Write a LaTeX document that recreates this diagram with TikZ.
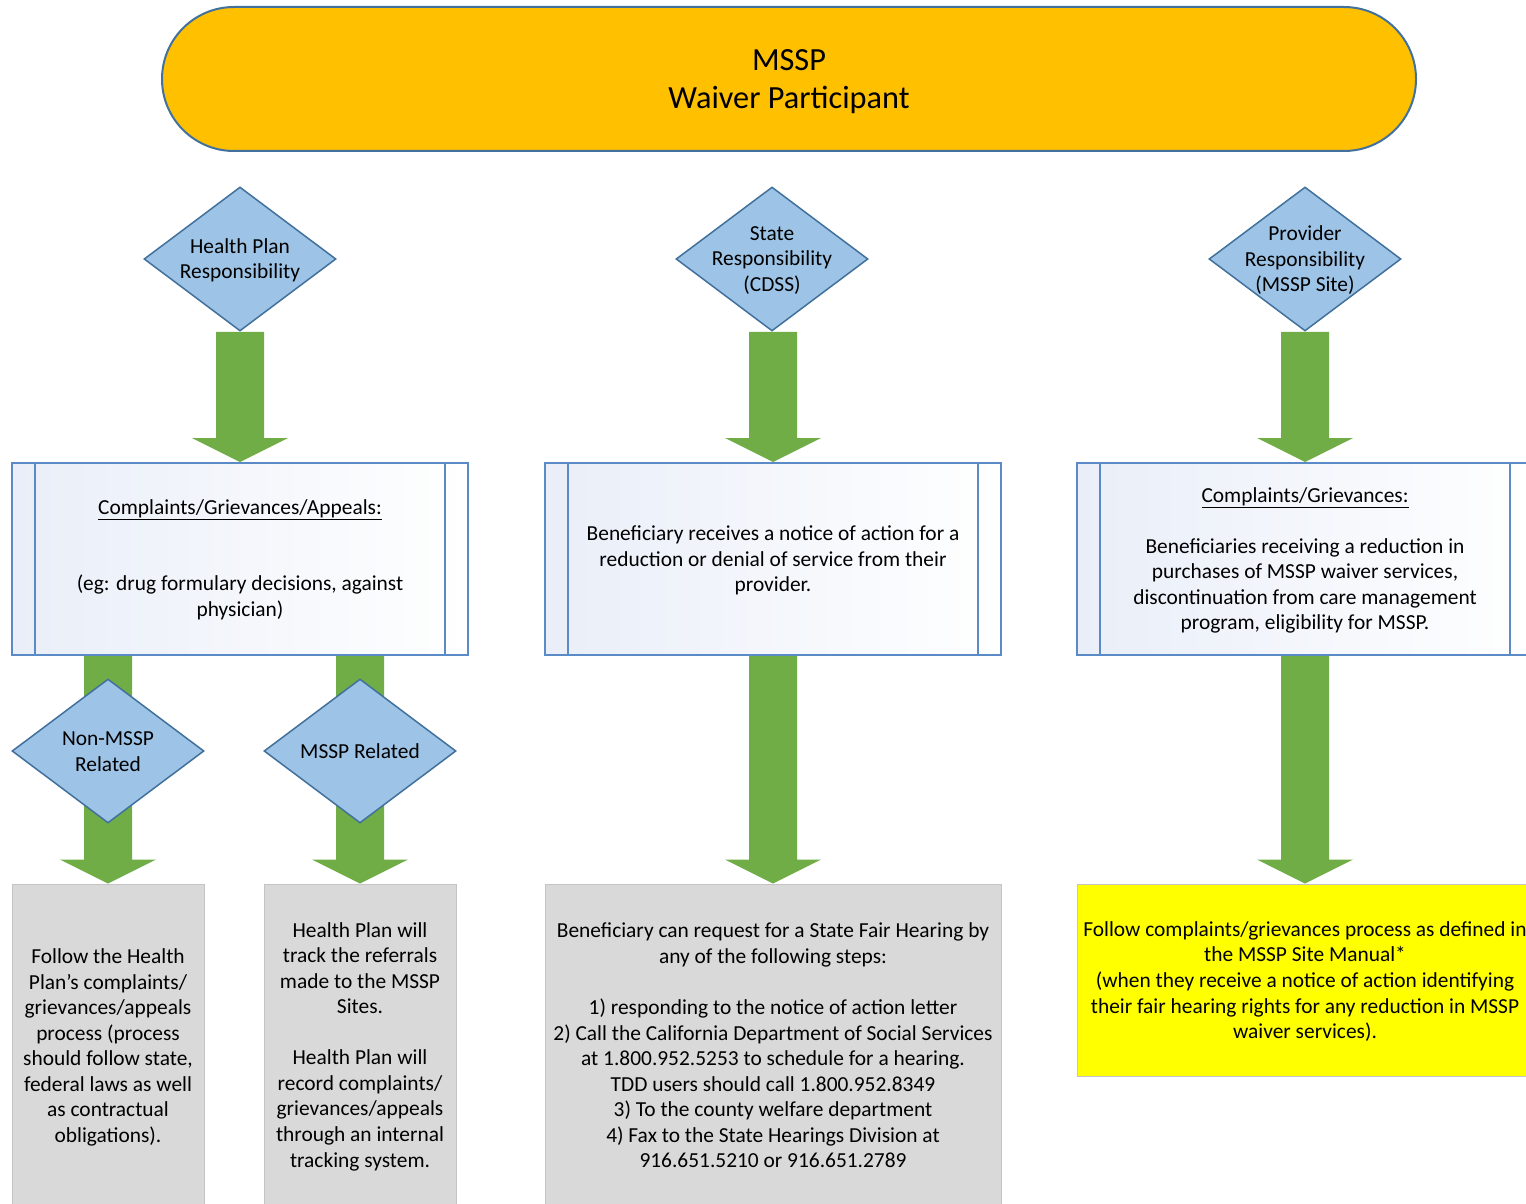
\documentclass[tikz,border=0pt]{standalone}
\usepackage{fontspec}
\setmainfont{Carlito}
\usetikzlibrary{shapes.geometric,backgrounds,calc}
\definecolor{gold}{HTML}{FFC000}
\definecolor{darkblue}{HTML}{41719C}
\definecolor{diafill}{HTML}{9DC3E6}
\definecolor{procline}{HTML}{5B8BC6}
\definecolor{arrowgreen}{HTML}{70AD47}
\definecolor{grayfill}{HTML}{D9D9D9}
\definecolor{grayline}{HTML}{C4C4C4}
\definecolor{procshade}{HTML}{E9EEF8}
\definecolor{brightyellow}{HTML}{FFFF00}
\newcommand{\blockarr}[2]{%
  \fill[arrowgreen] let \p1=(#1), \p2=(#2) in
    ({\x2-24pt},\y1) -- ({\x2+24pt},\y1) -- ({\x2+24pt},{\y2+24pt}) --
    ({\x2+48pt},{\y2+24pt}) -- (\x2,\y2) -- ({\x2-48pt},{\y2+24pt}) --
    ({\x2-24pt},{\y2+24pt}) -- cycle;}
\begin{document}
\begin{tikzpicture}[x=1pt,y=-1pt,
  txt/.style={font=\fontsize{21.4}{25.55}\selectfont, align=center, text=black, inner sep=0pt, yshift=-1.5pt},
  titletxt/.style={font=\fontsize{32.3}{38}\selectfont, align=center, text=black, inner sep=0pt, yshift=-3pt},
  stadium/.style={rectangle, rounded corners=72pt, draw=darkblue, line width=2pt, fill=gold,
    minimum width=1254pt, minimum height=144pt, inner sep=0pt},
  dia/.style={diamond, draw=darkblue, line width=1.5pt, fill=diafill,
    minimum width=192pt, minimum height=144pt, inner sep=0pt},
  proc/.style={rectangle, draw=procline, line width=2pt, left color=procshade, right color=white,
    minimum width=456pt, minimum height=192pt, inner sep=0pt},
  procbar/.style={draw=procline, line width=2pt},
  graybox/.style={rectangle, draw=grayline, line width=1pt, fill=grayfill, inner sep=0pt},
  yelbox/.style={rectangle, draw=grayline, line width=1pt, fill=brightyellow, inner sep=0pt,
    minimum width=456pt, minimum height=192pt}
]
\useasboundingbox (0,0) rectangle (1526,1204);
\clip (0,0) rectangle (1526,1204);

% title
\node[stadium] (top) at (789,79) {};
\node[titletxt] (topt) at (top) {MSSP\\Waiver Participant};

% top diamonds
\node[dia] (hp) at (240,259) {};
\node[txt] (hpt) at (hp) {Health Plan\\Responsibility};
\node[dia] (st) at (772,259) {};
\node[txt] (stt) at (st) {State\\Responsibility\\(CDSS)};
\node[dia] (pr) at (1305,259) {};
\node[txt] (prt) at (pr) {Provider\\Responsibility\\(MSSP Site)};

% process boxes
\node[proc] (p1) at (240,559) {};
\draw[procbar] ([xshift=24pt]p1.north west) -- ([xshift=24pt]p1.south west);
\draw[procbar] ([xshift=-24pt]p1.north east) -- ([xshift=-24pt]p1.south east);
\node[txt] (p1t) at (240,558) {\underline{Complaints/Grievances/Appeals:}\\[51.1pt](eg: drug formulary decisions, against\\physician)};

\node[proc] (p2) at (773,559) {};
\draw[procbar] ([xshift=24pt]p2.north west) -- ([xshift=24pt]p2.south west);
\draw[procbar] ([xshift=-24pt]p2.north east) -- ([xshift=-24pt]p2.south east);
\node[txt] (p2t) at (773,559) {Beneficiary receives a notice of action for a\\reduction or denial of service from their\\provider.};

\node[proc] (p3) at (1305,559) {};
\draw[procbar] ([xshift=24pt]p3.north west) -- ([xshift=24pt]p3.south west);
\draw[procbar] ([xshift=-24pt]p3.north east) -- ([xshift=-24pt]p3.south east);
\node[txt] (p3t) at (1305,559) {\underline{Complaints/Grievances:}\\[25.55pt]Beneficiaries receiving a reduction in\\purchases of MSSP waiver services,\\discontinuation from care management\\program, eligibility for MSSP.};

% small diamonds
\node[dia] (nm) at (108,751) {};
\node[txt] (nmt) at (108,750) {Non-MSSP\\Related};
\node[dia] (mr) at (360,751) {};
\node[txt] (mrt) at (360,750) {MSSP Related};

% bottom boxes
\node[graybox, minimum width=192pt, minimum height=324pt] (g1) at (108,1046) {};
\node[txt] (g1t) at (108,1046)
  {Follow the Health\\Plan’s complaints/\\grievances/appeals\\process (process\\should follow state,\\federal laws as well\\as contractual\\obligations).};
\node[graybox, minimum width=192pt, minimum height=324pt] (g2) at (360,1046) {};
\node[txt] (g2t) at (360,1045)
  {Health Plan will\\track the referrals\\made to the MSSP\\Sites.\\[25.55pt]Health Plan will\\record complaints/\\grievances/appeals\\through an internal\\tracking system.};
\node[graybox, minimum width=456pt, minimum height=324pt] (g3) at (773,1046) {};
\node[txt] (g3t) at (773,1044)
  {Beneficiary can request for a State Fair Hearing by\\any of the following steps:\\[25.55pt]1) responding to the notice of action letter\\2) Call the California Department of Social Services\\at 1.800.952.5253 to schedule for a hearing.\\TDD users should call 1.800.952.8349\\3) To the county welfare department\\4) Fax to the State Hearings Division at\\916.651.5210 or 916.651.2789};
\node[yelbox] (yb) at (1305,980) {};
\node[txt] (ybt) at (1305,980)
  {Follow complaints/grievances process as defined in\\the MSSP Site Manual*\\(when they receive a notice of action identifying\\their fair hearing rights for any reduction in MSSP\\waiver services).};

% block arrows
\begin{scope}[on background layer]
\blockarr{hp.south}{p1.north}
\blockarr{st.south}{p2.north}
\blockarr{pr.south}{p3.north}
\blockarr{p1.south}{g1.north}
\blockarr{p1.south}{g2.north}
\blockarr{p2.south}{g3.north}
\blockarr{p3.south}{yb.north}
\end{scope}
\end{tikzpicture}
\end{document}
